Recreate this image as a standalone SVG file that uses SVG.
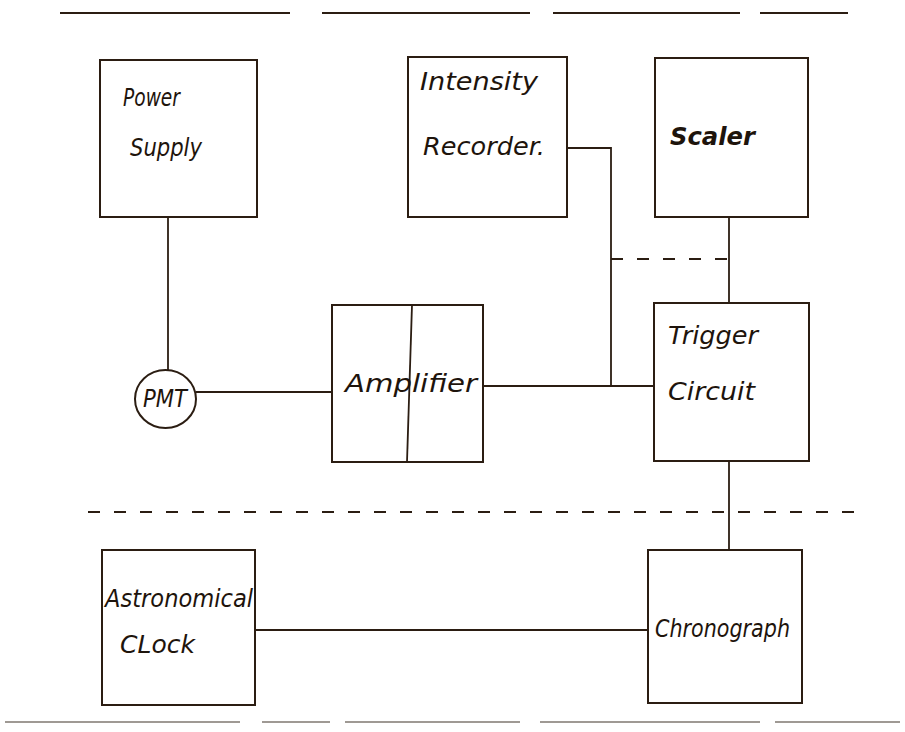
<svg xmlns="http://www.w3.org/2000/svg" width="905" height="732" viewBox="0 0 905 732">
<style>
.b{fill:none;stroke:#2b1d12;stroke-width:2}
.c{fill:none;stroke:#2b1d12;stroke-width:1.8}
.d{fill:none;stroke:#2b1d12;stroke-width:2;stroke-dasharray:12 14}
.t{font-family:"DejaVu Sans",sans-serif;font-style:oblique;font-size:24px;fill:#1e140c}
</style>
<rect width="905" height="732" fill="#ffffff"/>
<g id="frame">
<path class="b" d="M60 13H290M322 13H530M553 13H740M760 13H848" stroke-width="3"/>
<path class="b" d="M5 722H240M262 722H330M345 722H520M540 722H760M775 722H900" stroke-width="3" opacity="0.45"/>
<path class="d" d="M88 512H865"/>
</g>
<g id="connectors">
<path class="c" d="M168 218V370"/>
<path class="c" d="M196 392H332"/>
<path class="c" d="M483 386H654"/>
<path class="c" d="M567 148H611V386"/>
<path class="d" d="M611 259H729" stroke-dasharray="10 8"/>
<path class="c" d="M729 217V303"/>
<path class="c" d="M729 461V550"/>
<path class="c" d="M255 630H648"/>
</g>
<g id="power-supply">
<rect class="b" x="100" y="60" width="157" height="157"/>
<text class="t" x="123" y="106" textLength="57" lengthAdjust="spacingAndGlyphs">Power</text>
<text class="t" x="130" y="156" textLength="72" lengthAdjust="spacingAndGlyphs">Supply</text>
</g>
<g id="intensity-recorder">
<rect class="b" x="408" y="57" width="159" height="160"/>
<text class="t" x="420" y="90" textLength="118" lengthAdjust="spacingAndGlyphs">Intensity</text>
<text class="t" x="423" y="155" textLength="122" lengthAdjust="spacingAndGlyphs">Recorder.</text>
</g>
<g id="scaler">
<rect class="b" x="655" y="58" width="153" height="159"/>
<text class="t" x="670" y="145" textLength="85" lengthAdjust="spacingAndGlyphs" font-weight="bold">Scaler</text>
</g>
<g id="pmt">
<ellipse class="b" cx="165.5" cy="399" rx="30.5" ry="29"/>
<text class="t" x="165" y="407" text-anchor="middle" font-style="normal" font-size="19" textLength="44" lengthAdjust="spacingAndGlyphs">PMT</text>
</g>
<g id="amplifier">
<rect class="b" x="332" y="305" width="151" height="157"/>
<path class="c" d="M412 305L407 462"/>
<text class="t" x="345" y="392" textLength="132" lengthAdjust="spacingAndGlyphs">Amplifier</text>
</g>
<g id="trigger-circuit">
<rect class="b" x="654" y="303" width="155" height="158"/>
<text class="t" x="668" y="344" textLength="90" lengthAdjust="spacingAndGlyphs">Trigger</text>
<text class="t" x="668" y="400" textLength="87" lengthAdjust="spacingAndGlyphs">Circuit</text>
</g>
<g id="astronomical-clock">
<rect class="b" x="102" y="550" width="153" height="155"/>
<text class="t" x="105" y="607" textLength="148" lengthAdjust="spacingAndGlyphs">Astronomical</text>
<text class="t" x="120" y="653" textLength="75" lengthAdjust="spacingAndGlyphs">CLock</text>
</g>
<g id="chronograph">
<rect class="b" x="648" y="550" width="154" height="153"/>
<text class="t" x="655" y="637" textLength="135" lengthAdjust="spacingAndGlyphs">Chronograph</text>
</g>
</svg>
